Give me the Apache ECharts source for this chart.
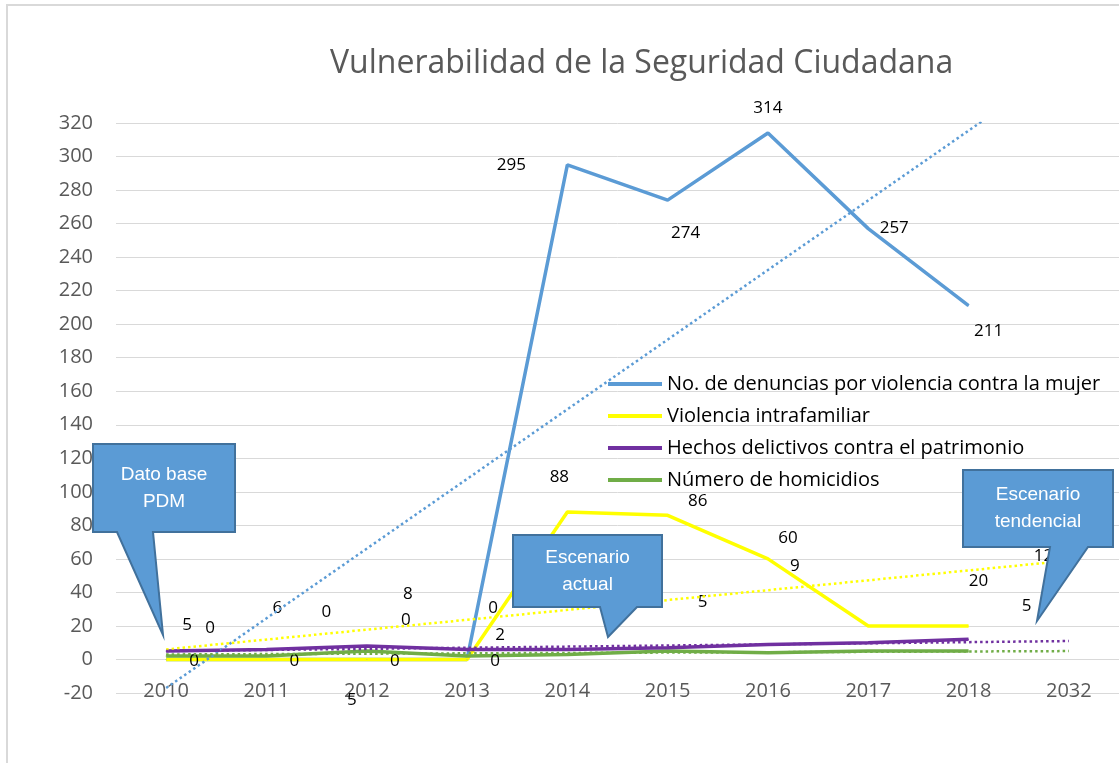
<!DOCTYPE html>
<html>
<head>
<meta charset="utf-8">
<script src="https://cdn.jsdelivr.net/npm/echarts@6/dist/echarts.min.js"></script>
<style>
  html, body { margin: 0; padding: 0; background: #fff; }
  #chart { width: 1119px; height: 763px; }
</style>
</head>
<body>
<div id="chart"></div>
<script>
  // categorias y valores
  var years = ['2010', '2011', '2012', '2013', '2014', '2015', '2016', '2017', '2018', '2032']
  var denuncias = [0, 0, 0, 0, 295, 274, 314, 257, 211, null]
  var intrafamiliar = [0, 0, 0, 0, 88, 86, 60, 20, 20, null]
  var patrimonio = [5, 6, 8, 6, 6, 7, 9, 10, 12, null]
  var homicidios = [2, 2, 5, 2, 3, 5, 4, 5, 5, null]

  // lineas de tendencia (extremos)
  var tendDenuncias = [-17, null, null, null, null, null, null, null, null, 357]
  var tendIntrafamiliar = [6, null, null, null, null, null, null, null, null, 59]
  var tendPatrimonio = [5, null, null, null, null, null, null, null, null, 11]
  var tendHomicidios = [3, null, null, null, null, null, null, null, null, 5]

  var yTicks = {min: -20, max: 320, interval: 20}

  var names = [
    'No. de denuncias por violencia contra la mujer',
    'Violencia intrafamiliar',
    'Hechos delictivos contra el patrimonio',
    'Número de homicidios'
  ]
  var colors = ['#5B9BD5', '#FFFF00', '#7030A0', '#70AD47']

  // desplazamiento de las etiquetas (como quedaron en la hoja original)
  var labelOffsets = [
    {0: [44, -31], 1: [60, -47], 2: [39, -39], 3: [26, -51], 4: [-56, 0], 5: [18, 33], 6: [0, -25], 7: [26, 0], 8: [20, 25]},
    {0: [28, 2], 1: [28, 2], 2: [28, 2], 3: [28, 2], 4: [-8, -35], 5: [30, -14], 6: [20, -21], 8: [10, -45]},
    {0: [21, -26], 1: [11, -41], 2: [41, -52], 6: [27, -78], 8: [75, -83]},
    {2: [-15, 49], 3: [33, -21], 5: [35, -49], 8: [58, -45]}
  ]

  function withLabels(values, offsets) {
    return values.map(function (v, i) {
      if (offsets[i] && v !== null) {
        return {value: v, label: {show: true, offset: offsets[i]}}
      }
      return v
    })
  }

  function mainSeries(idx, values) {
    return {
      name: names[idx],
      type: 'line',
      data: withLabels(values, labelOffsets[idx]),
      symbol: 'circle',
      symbolSize: 1,
      showSymbol: true,
      itemStyle: {color: colors[idx]},
      lineStyle: {color: colors[idx], width: 3.5},
      label: {
        show: false,
        position: 'inside',
        color: '#000',
        fontSize: 17,
        fontFamily: 'Open Sans'
      },
      emphasis: {disabled: true},
      z: 2
    }
  }

  function trendSeries(idx, values) {
    return {
      name: 'Lineal (' + names[idx] + ')',
      type: 'line',
      data: values,
      connectNulls: true,
      symbol: 'none',
      lineStyle: {color: colors[idx], width: 2.5, type: [2.5, 3]},
      emphasis: {disabled: true},
      z: 3
    }
  }

  function callout(box, tail, lines) {
    var pts = [
      [box[0], box[1]], [box[2], box[1]], [box[2], box[3]],
      [tail[1], box[3]], [tail[2], tail[3]], [tail[0], box[3]],
      [box[0], box[3]]
    ]
    var cx = (box[0] + box[2]) / 2
    var cy = (box[1] + box[3]) / 2
    return [{
      type: 'polygon',
      shape: {points: pts},
      style: {fill: '#5B9BD5', stroke: '#41719C', lineWidth: 2},
      z: 10
    }, {
      type: 'text',
      x: cx,
      y: cy,
      style: {
        text: lines.join('\n'),
        fill: '#fff',
        font: '19px "Liberation Sans"',
        lineHeight: 27,
        align: 'center',
        verticalAlign: 'middle'
      },
      z: 11
    }]
  }

  var chart = echarts.init(document.getElementById('chart'))
  chart.setOption({
    animation: false,
    backgroundColor: '#fff',
    title: {
      text: 'Vulnerabilidad de la Seguridad Ciudadana',
      left: 325,
      top: 43,
      textStyle: {color: '#595959', fontSize: 32, fontWeight: 'normal', fontFamily: 'Open Sans'}
    },
    legend: {
      data: names,
      orient: 'vertical',
      left: 608,
      top: 374,
      padding: 0,
      itemWidth: 54,
      itemHeight: 4,
      itemGap: 12,
      icon: 'rect',
      textStyle: {color: '#000', fontSize: 20, fontFamily: 'Open Sans', lineHeight: 20}
    },
    grid: {left: 116, right: 0, top: 123, bottom: 70},
    xAxis: {
      type: 'category',
      data: years,
      boundaryGap: true,
      axisLine: {show: false},
      axisTick: {show: false},
      axisLabel: {color: '#595959', fontSize: 20, fontFamily: 'Open Sans', margin: -12}
    },
    yAxis: {
      type: 'value',
      min: yTicks.min,
      max: yTicks.max,
      interval: yTicks.interval,
      axisLine: {show: false},
      axisTick: {show: false},
      axisLabel: {color: '#595959', fontSize: 20, fontFamily: 'Open Sans', margin: 23},
      splitLine: {lineStyle: {color: '#D9D9D9', width: 1}}
    },
    series: [
      mainSeries(0, denuncias),
      mainSeries(1, intrafamiliar),
      mainSeries(3, homicidios),
      mainSeries(2, patrimonio),
      trendSeries(0, tendDenuncias),
      trendSeries(1, tendIntrafamiliar),
      trendSeries(2, tendPatrimonio),
      trendSeries(3, tendHomicidios)
    ],
    graphic: [{
      type: 'rect',
      shape: {x: 7, y: 5, width: 1200, height: 800},
      style: {fill: 'none', stroke: '#D9D9D9', lineWidth: 2},
      silent: true
    }]
      .concat(callout([93, 444, 235, 532], [117, 153, 163, 635], ['Dato base', 'PDM']))
      .concat(callout([513, 535, 662, 607], [600, 637, 608, 637], ['Escenario', 'actual']))
      .concat(callout([963, 470, 1113, 547], [1050, 1088, 1037, 621], ['Escenario', 'tendencial']))
  })
</script>
</body>
</html>
